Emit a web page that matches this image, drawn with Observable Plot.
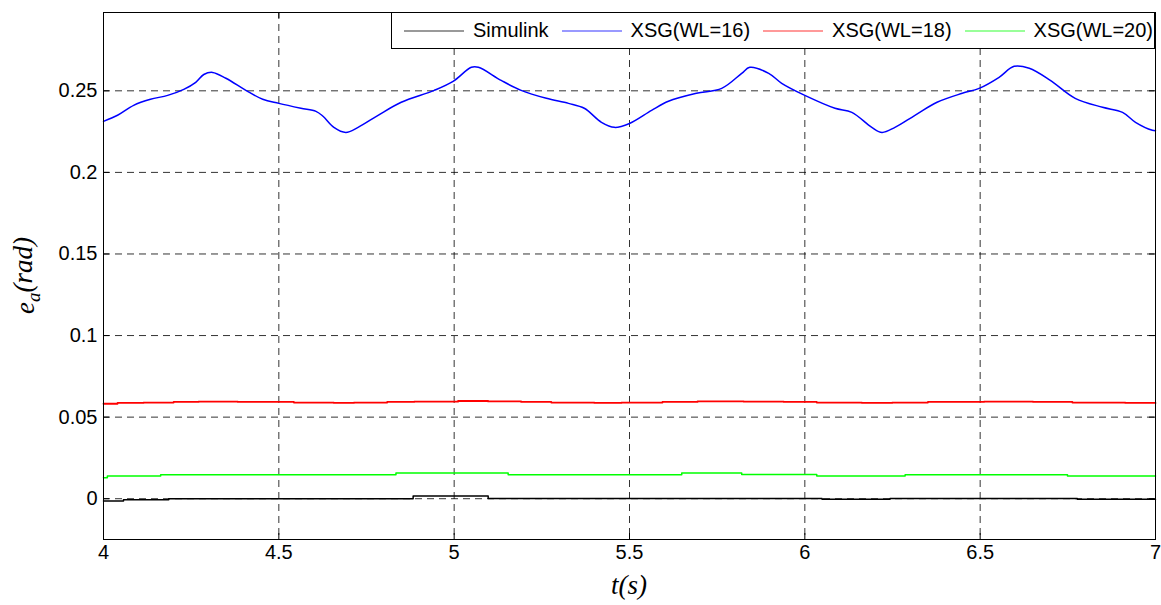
<!DOCTYPE html>
<html>
<head>
<meta charset="utf-8">
<script src="https://cdn.jsdelivr.net/npm/d3@7"></script>
<script src="https://cdn.jsdelivr.net/npm/@observablehq/plot@0.6"></script>
<style>
  html, body { margin: 0; padding: 0; background: #fff; }
  #wrap { position: relative; width: 1161px; height: 605px; }
  #legend { position: absolute; left: 391px; top: 12px; width: 762px; height: 35px;
    border: 1px solid #000; background: #fff; display: flex; align-items: center;
    font-family: "Liberation Sans", Arial, sans-serif; font-size: 20px; color: #000; box-sizing: content-box; }
  .item { display: flex; align-items: center; margin-left: 12px; }
  .item + .item { margin-left: 13px; }
  .item svg { margin-right: 9px; }
</style>
</head>
<body>
<div id="wrap"><div id="legend"></div></div>
<script>
// ---- data ----
const seriesNames = ["Simulink", "XSG(WL=16)", "XSG(WL=18)", "XSG(WL=20)"];
const seriesColors = ["#000000", "#0000ff", "#ff0000", "#00ff00"];

const xTicks = [4, 4.5, 5, 5.5, 6, 6.5, 7];
const yTicks = [0, 0.05, 0.1, 0.15, 0.2, 0.25];

// XSG(WL=16) - smooth curve
const wl16T = [4.000, 4.040, 4.086, 4.134, 4.183, 4.229, 4.263, 4.286, 4.311, 4.349, 4.406, 4.454, 4.500, 4.563, 4.606, 4.626, 4.657, 4.691, 4.726, 4.783, 4.849, 4.943, 4.997, 5.049, 5.069, 5.134, 5.191, 5.263, 5.326, 5.371, 5.420, 5.457, 5.500, 5.563, 5.611, 5.691, 5.763, 5.820, 5.843, 5.897, 5.934, 6.000, 6.086, 6.134, 6.191, 6.220, 6.257, 6.314, 6.377, 6.449, 6.497, 6.554, 6.597, 6.640, 6.700, 6.771, 6.849, 6.906, 6.943, 6.991, 7.000];
const wl16V = [0.2313, 0.2350, 0.2411, 0.2448, 0.2472, 0.2509, 0.2552, 0.2600, 0.2613, 0.2577, 0.2503, 0.2448, 0.2423, 0.2393, 0.2374, 0.2344, 0.2276, 0.2245, 0.2276, 0.2350, 0.2430, 0.2503, 0.2558, 0.2644, 0.2644, 0.2564, 0.2503, 0.2454, 0.2423, 0.2393, 0.2307, 0.2276, 0.2300, 0.2380, 0.2436, 0.2485, 0.2515, 0.2607, 0.2644, 0.2607, 0.2546, 0.2472, 0.2393, 0.2368, 0.2276, 0.2245, 0.2276, 0.2350, 0.2430, 0.2485, 0.2515, 0.2583, 0.2650, 0.2638, 0.2564, 0.2454, 0.2399, 0.2368, 0.2307, 0.2258, 0.2255];

// XSG(WL=18) - stepped
const wl18T = [4.000, 4.040, 4.114, 4.200, 4.271, 4.383, 4.543, 4.657, 4.714, 4.809, 4.886, 5.011, 5.097, 5.191, 5.277, 5.400, 5.477, 5.594, 5.694, 5.826, 5.940, 6.034, 6.163, 6.249, 6.351, 6.511, 6.651, 6.763, 6.914, 7.000];
const wl18V = [0.0582, 0.0587, 0.0589, 0.0593, 0.0595, 0.0593, 0.0589, 0.0587, 0.0589, 0.0593, 0.0595, 0.0599, 0.0596, 0.0593, 0.0589, 0.0587, 0.0589, 0.0593, 0.0596, 0.0595, 0.0593, 0.0589, 0.0587, 0.0589, 0.0593, 0.0595, 0.0593, 0.0589, 0.0587, 0.0587];

// XSG(WL=20) - stepped
const wl20T = [4.000, 4.011, 4.163, 4.834, 5.154, 5.649, 5.820, 6.034, 6.286, 6.749, 7.000];
const wl20V = [0.0129, 0.0139, 0.0147, 0.0157, 0.0147, 0.0157, 0.0149, 0.0139, 0.0147, 0.0139, 0.0139];

// Simulink - stepped
const simT = [4.000, 4.057, 4.186, 4.883, 5.097, 6.049, 6.243, 6.777, 7.000];
const simV = [-0.0014, -0.0006, 0.0000, 0.0016, 0.0002, -0.0004, 0.0002, -0.0004, -0.0004];

const toRows = (T, V) => T.map((t, i) => ({t, v: V[i]}));
const sim = toRows(simT, simV);
const wl16 = toRows(wl16T, wl16V);
const wl18 = toRows(wl18T, wl18V);
const wl20 = toRows(wl20T, wl20V);

const W = 1161, H = 605;
const mL = 103, mR = 6, mT = 12, mB = 66;
const innerW = W - mL - mR, innerH = H - mT - mB;

const chart = Plot.plot({
  width: W, height: H,
  marginLeft: mL, marginRight: mR, marginTop: mT, marginBottom: mB,
  style: { fontFamily: "'Liberation Sans', Arial, sans-serif", fontSize: "20px", color: "#000", background: "#fff" },
  x: { domain: [4, 7] },
  y: { domain: [-0.025, 0.298] },
  marks: [
    Plot.gridX(xTicks, { stroke: "#000", strokeOpacity: 0.8, strokeDasharray: "7,5", strokeWidth: 1 }),
    Plot.gridY(yTicks, { stroke: "#000", strokeOpacity: 0.8, strokeDasharray: "7,5", strokeWidth: 1 }),
    // inward ticks (MATLAB style), on all four sides
    Plot.tickY(yTicks, { y: d => d, stroke: "#000", insetRight: innerW - 6 }),
    Plot.tickY(yTicks, { y: d => d, stroke: "#000", insetLeft: innerW - 6 }),
    Plot.tickX(xTicks, { x: d => d, stroke: "#000", insetTop: innerH - 6 }),
    Plot.tickX(xTicks, { x: d => d, stroke: "#000", insetBottom: innerH - 6 }),
    Plot.axisX(xTicks, { tickSize: 0, tickPadding: 5, tickFormat: d => String(d), label: null, fontSize: 20 }),
    Plot.axisY(yTicks, { tickSize: 0, tickPadding: 6, tickFormat: d => String(d), label: null, fontSize: 20 }),
    Plot.line(sim, { x: "t", y: "v", stroke: seriesColors[0], strokeWidth: 1.5, curve: "step-after" }),
    Plot.line(wl16, { x: "t", y: "v", stroke: seriesColors[1], strokeWidth: 1.5, curve: "catmull-rom" }),
    Plot.line(wl18, { x: "t", y: "v", stroke: seriesColors[2], strokeWidth: 1.8, curve: "step-after" }),
    Plot.line(wl20, { x: "t", y: "v", stroke: seriesColors[3], strokeWidth: 1.5, curve: "step-after" }),
    Plot.frame({ stroke: "#000", strokeWidth: 1 })
  ]
});

const wrap = document.getElementById("wrap");
wrap.insertBefore(chart, wrap.firstChild);

// axis labels (italic serif)
const svg = d3.select(chart);
svg.append("text")
  .attr("x", mL + innerW / 2).attr("y", 594)
  .attr("text-anchor", "middle")
  .style("font-family", "'Liberation Serif', 'Times New Roman', serif")
  .style("font-style", "italic").style("font-size", "27px")
  .text("t(s)");

const yl = svg.append("text")
  .attr("transform", `translate(34, ${mT + innerH / 2}) rotate(-90)`)
  .attr("text-anchor", "middle")
  .style("font-family", "'Liberation Serif', 'Times New Roman', serif")
  .style("font-style", "italic").style("font-size", "27px");
yl.append("tspan").text("e");
yl.append("tspan").attr("dy", "0.3em").style("font-size", "19px").text("a");
yl.append("tspan").attr("dy", "-0.3em").text("(rad)");

// legend
const legend = d3.select("#legend");
seriesNames.forEach((name, i) => {
  const it = legend.append("div").attr("class", "item");
  const s = it.append("svg").attr("width", 60).attr("height", 4);
  s.append("line").attr("x1", 0).attr("x2", 60).attr("y1", 2).attr("y2", 2)
    .attr("stroke", seriesColors[i]).attr("stroke-width", 1).attr("stroke-opacity", 0.8);
  it.append("span").text(name);
});
</script>
</body>
</html>
